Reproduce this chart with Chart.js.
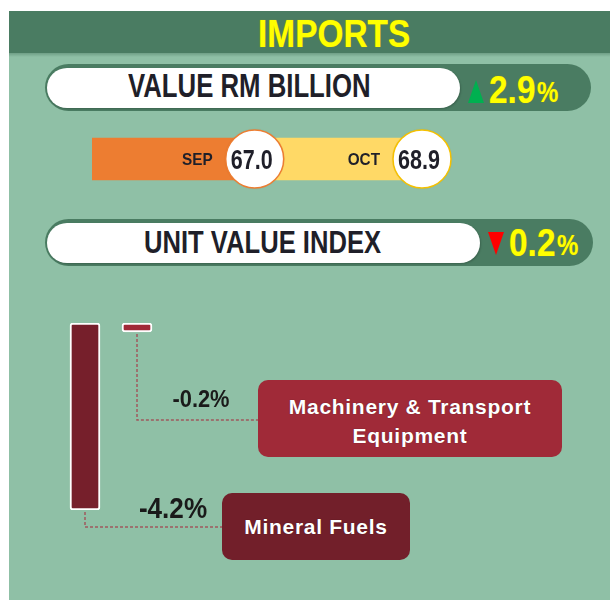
<!DOCTYPE html>
<html>
<head>
<meta charset="utf-8">
<script src="https://cdn.jsdelivr.net/npm/chart.js@4.4.0/dist/chart.umd.min.js"></script>
<style>
  body { margin: 0; width: 610px; height: 600px; background: #fff; overflow: hidden; position: relative;
         font-family: "Liberation Sans", Arial, sans-serif; }
  #panel { position: absolute; left: 9px; top: 11px; width: 601px; height: 589px; background: #8fc0a6; }
  #header { position: absolute; left: 9px; top: 11px; width: 601px; height: 42px; background: #4a7c62; }
  #headerEdge { position: absolute; left: 9px; top: 53px; width: 601px; height: 4px;
                background: linear-gradient(#6f9f86, #8fc0a6); }
  .pill { position: absolute; background: #4a7c62; }
  .white { position: absolute; background: #fff; box-shadow: 1px 1px 2px rgba(0,0,0,0.2); }
  .txt { position: absolute; white-space: nowrap; font-weight: bold; transform-origin: 0 0; }
  .tri { position: absolute; width: 0; height: 0; }
  canvas { position: absolute; }
  .box { position: absolute; border-radius: 10px; color: #fff; font-weight: bold; font-size: 21px;
         letter-spacing: 0.7px; text-align: center; display: flex; align-items: center;
         justify-content: center; line-height: 29px; text-shadow: 0 0 1px rgba(0,0,0,0.5); }
</style>
</head>
<body>
<div id="panel"></div>
<div id="header"></div>
<div id="headerEdge"></div>

<div class="pill" style="left:45px; top:64px; width:546px; height:47px; border-radius:24px"></div>
<div class="white" style="left:47px; top:68px; width:413px; height:40px; border-radius:20px"></div>
<div class="pill" style="left:45px; top:219px; width:548px; height:47px; border-radius:24px"></div>
<div class="white" style="left:47px; top:223px; width:433px; height:40px; border-radius:20px"></div>

<canvas id="monthChart" width="601" height="80" style="left:9px; top:119px"></canvas>
<canvas id="productChart" width="601" height="310" style="left:9px; top:290px"></canvas>

<div class="box" style="left:258px; top:380px; width:304px; height:77px; padding-top:4px; box-sizing:border-box; background:#a02a38">Machinery &amp; Transport<br>Equipment</div>
<div class="box" style="left:222px; top:493px; width:188px; height:67px; background:#721f2a">Mineral Fuels</div>

<script>
// values
const months = ['SEP', 'OCT'];
const monthValues = [67.0, 68.9];           // imports, RM billion
const valueChange = 2.9;                     // % month on month
const unitValueChange = -0.2;                // % unit value index
const products = ['Mineral Fuels', 'Machinery & Transport Equipment'];
const productChanges = [-4.2, -0.2];         // % contribution

// styles kept apart from the data
const monthColors = ['#ed7d31', '#ffd966'];
const monthRing = ['#ed7d31', '#f5c000'];
const productColors = ['#761f2b', '#a02a38'];
const connectorEnds = [
    { x: 213, y: 237, fs: 29, sx: 0.9, lx: 164, base: 228 },
    { x: 249, y: 130, fs: 23, sx: 0.95, lx: 192, base: 117 }
];

// condensed bold text placed by its baseline (emulates a narrow face)
function place(text, o) {
    const el = document.createElement('div');
    el.className = 'txt';
    el.textContent = text;
    el.style.fontSize = o.fs + 'px';
    el.style.lineHeight = o.fs + 'px';
    el.style.color = o.color;
    el.style.transform = 'scaleX(' + o.sx + ')';
    if (o.shadow) el.style.textShadow = o.shadow;
    document.body.appendChild(el);
    el.style.top = (o.base - 0.8465 * o.fs) + 'px';
    const w = el.offsetWidth * o.sx;
    el.style.left = (o.cx !== undefined ? o.cx - w / 2 : o.left) + 'px';
}
function triangle(left, top, w, h, up, color) {
    const el = document.createElement('div');
    el.className = 'tri';
    el.style.left = left + 'px';
    el.style.top = top + 'px';
    el.style.borderLeft = (w / 2) + 'px solid transparent';
    el.style.borderRight = (w / 2) + 'px solid transparent';
    if (up) el.style.borderBottom = h + 'px solid ' + color;
    else el.style.borderTop = h + 'px solid ' + color;
    document.body.appendChild(el);
}
const glow = '0 0 1px #b5a000';
place('IMPORTS', { cx: 334, base: 47, fs: 38, sx: 0.88, color: '#ffff00', shadow: glow });
place('VALUE RM BILLION', { cx: 249, base: 97, fs: 33, sx: 0.78, color: '#1f1f29' });
place('UNIT VALUE INDEX', { cx: 262, base: 253, fs: 32, sx: 0.8, color: '#1f1f29' });

function change(v, left, base, triTop) {
    triangle(left, triTop, 17, 23, v >= 0, v >= 0 ? '#00b050' : '#ff0000');
    place(Math.abs(v).toFixed(1), { left: left + 21, base: base, fs: 38, sx: 0.88, color: '#ffff00', shadow: glow });
    place('%', { left: left + 69, base: base - 1, fs: 30, sx: 0.8, color: '#ffff00', shadow: glow });
}
change(valueChange, 468, 103, 80);
change(unitValueChange, 488, 256, 232);

const sansFont = '"Liberation Sans", Arial, sans-serif';
function narrowText(ctx, text, x, y, fs, sx, align) {
    ctx.save();
    ctx.font = 'bold ' + fs + 'px ' + sansFont;
    const w = ctx.measureText(text).width * sx;
    const x0 = align === 'right' ? x - w : align === 'center' ? x - w / 2 : x;
    ctx.translate(x0, y);
    ctx.scale(sx, 1);
    ctx.textAlign = 'left';
    ctx.textBaseline = 'alphabetic';
    ctx.fillText(text, 0, 0);
    ctx.restore();
}

// circles with month name and value at the end of each segment
const monthBubbles = {
    id: 'monthBubbles',
    afterDatasetsDraw(chart) {
        const ctx = chart.ctx;
        chart.data.datasets.forEach((ds, i) => {
            const bar = chart.getDatasetMeta(i).data[0];
            const cx = bar.x, cy = bar.y;
            ctx.save();
            ctx.beginPath();
            ctx.arc(cx, cy, 29, 0, Math.PI * 2);
            ctx.fillStyle = '#fff';
            ctx.shadowColor = 'rgba(0,0,0,0.2)';
            ctx.shadowBlur = 2;
            ctx.fill();
            ctx.shadowColor = 'transparent';
            ctx.lineWidth = 1.5;
            ctx.strokeStyle = monthRing[i];
            ctx.stroke();
            ctx.fillStyle = '#1f1f29';
            narrowText(ctx, ds.data[0].toFixed(1), cx - 3, cy + 10, 28, 0.77, 'center');
            narrowText(ctx, ds.label, cx - 42, cy + 6, 17, 0.9, 'right');
            ctx.restore();
        });
    }
};

new Chart(document.getElementById('monthChart'), {
    type: 'bar',
    data: {
        labels: ['Imports'],
        datasets: months.map((m, i) => ({
            label: m,
            data: [monthValues[i]],
            backgroundColor: monthColors[i],
            barThickness: 42
        }))
    },
    options: {
        indexAxis: 'y',
        responsive: false,
        animation: false,
        layout: { padding: { left: 83, right: 188, top: 0, bottom: 0 } },
        scales: {
            x: { stacked: true, min: 0, max: monthValues[0] + monthValues[1], display: false },
            y: { stacked: true, display: false }
        },
        plugins: { legend: { display: false }, tooltip: { enabled: false } }
    },
    plugins: [monthBubbles]
});

// dotted connectors from bar ends to the category boxes, with % labels
const connectors = {
    id: 'connectors',
    afterDatasetsDraw(chart) {
        const ctx = chart.ctx;
        chart.getDatasetMeta(0).data.forEach((bar, i) => {
            const end = connectorEnds[i];
            ctx.save();
            ctx.strokeStyle = '#a0585e';
            ctx.lineWidth = 1.5;
            ctx.setLineDash([3, 2]);
            ctx.beginPath();
            ctx.moveTo(bar.x, bar.y + 2);
            ctx.lineTo(bar.x, end.y);
            ctx.lineTo(end.x, end.y);
            ctx.stroke();
            ctx.setLineDash([]);
            ctx.fillStyle = '#1a1a1a';
            narrowText(ctx, productChanges[i].toFixed(1) + '%', end.lx, end.base, end.fs, end.sx, 'center');
            ctx.restore();
        });
    }
};

new Chart(document.getElementById('productChart'), {
    type: 'bar',
    data: {
        labels: products,
        datasets: [{
            data: productChanges,
            backgroundColor: productColors,
            borderColor: '#ffffff',
            borderWidth: 2,
            borderSkipped: false,
            borderRadius: 3,
            barThickness: 30
        }]
    },
    options: {
        responsive: false,
        animation: false,
        layout: { padding: { left: 50, right: 447, top: 33, bottom: 90 } },
        scales: {
            x: { display: false },
            y: { min: -4.2, max: 0, display: false }
        },
        plugins: { legend: { display: false }, tooltip: { enabled: false } }
    },
    plugins: [connectors]
});
</script>
</body>
</html>
